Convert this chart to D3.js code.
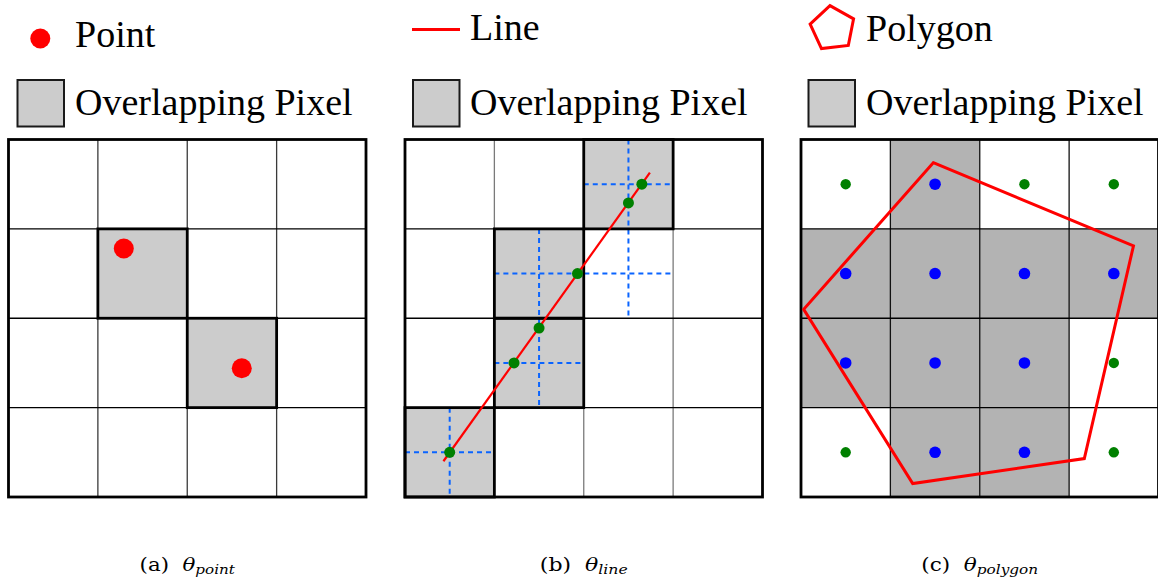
<!DOCTYPE html>
<html>
<head>
<meta charset="utf-8">
<script src="https://cdn.jsdelivr.net/npm/d3@7"></script>
<style>
  html, body { margin: 0; padding: 0; background: #fff; }
  svg { display: block; }
</style>
</head>
<body>
<svg id="fig" width="1158" height="579"></svg>
<script>
// ---- grid size (cells per side) ----
const gridN = 4;

// ---- (a) point: red points and the pixels they fall in (grid units, col/row from top-left) ----
const pointValues = [[1.29, 1.22], [2.61, 2.56]];
const pointCells = [[1, 1], [2, 2]];

// ---- (b) line: end points, overlapped pixels, sample crossings and guide lines ----
const lineEnds = [[0.43, 3.60], [2.74, 0.37]];
const lineCells = [[2, 0], [1, 1], [1, 2], [0, 3]];
const lineHits = [[0.5, 3.5], [1.22, 2.5], [1.5, 2.11], [1.93, 1.5], [2.5, 0.71], [2.65, 0.5]];
const guidesV = [[0.5, 3, 4], [1.5, 1, 3], [2.5, 0, 2]];   // [x, y from, y to]
const guidesH = [[3.5, 0, 1], [2.5, 1, 2], [1.5, 1, 3], [0.5, 2, 3]]; // [y, x from, x to]

// ---- (c) polygon: vertices and the pixels whose centres lie inside ----
const polygonVertices = [[1.48, 0.26], [3.72, 1.19], [3.17, 3.57], [1.25, 3.85], [0.03, 1.90]];
const polygonCells = [[1, 0], [0, 1], [1, 1], [2, 1], [3, 1], [0, 2], [1, 2], [2, 2], [1, 3], [2, 3]];

// ---- text ----
const legendNames = ["Point", "Line", "Polygon"];
const legendPixel = "Overlapping Pixel";
const captionTags = ["(a)", "(b)", "(c)"];
const captionSubs = ["point", "line", "polygon"];

const svg = d3.select("#fig");
const RED = "#ff0000", GREEN = "#008000", BLUE = "#0000ff", DASH = "#0a64ff";
const serif = "'Liberation Serif', 'Times New Roman', serif";

const panelX = [8.5, 405, 801];
const panelY = 139.5;
const panelSize = 357.5;

function scalesFor(i) {
  return {
    x: d3.scaleLinear().domain([0, gridN]).range([panelX[i], panelX[i] + panelSize]),
    y: d3.scaleLinear().domain([0, gridN]).range([panelY, panelY + panelSize])
  };
}

function drawGrid(g, s, vColor, hColor) {
  const ticks = d3.range(1, gridN);
  g.selectAll("line.v").data(ticks).join("line")
    .attr("x1", d => s.x(d)).attr("x2", d => s.x(d))
    .attr("y1", s.y(0)).attr("y2", s.y(gridN))
    .attr("stroke", vColor).attr("stroke-width", 1.3);
  g.selectAll("line.h").data(ticks).join("line")
    .attr("y1", d => s.y(d)).attr("y2", d => s.y(d))
    .attr("x1", s.x(0)).attr("x2", s.x(gridN))
    .attr("stroke", hColor).attr("stroke-width", 1.3);
}

function drawFrame(g, s) {
  g.append("rect")
    .attr("x", s.x(0)).attr("y", s.y(0))
    .attr("width", s.x(gridN) - s.x(0)).attr("height", s.y(gridN) - s.y(0))
    .attr("fill", "none").attr("stroke", "#000").attr("stroke-width", 2.8);
}

function cellRects(g, s, cells, fill, stroke, sw) {
  g.selectAll(null).data(cells).join("rect")
    .attr("x", d => s.x(d[0])).attr("y", d => s.y(d[1]))
    .attr("width", s.x(1) - s.x(0)).attr("height", s.y(1) - s.y(0))
    .attr("fill", fill).attr("stroke", stroke).attr("stroke-width", sw);
}

function legendPixelBox(g, x, textX) {
  g.append("rect").attr("x", x).attr("y", 80).attr("width", 46.5).attr("height", 46.5)
    .attr("fill", "#cccccc").attr("stroke", "#1a1a1a").attr("stroke-width", 2);
  g.append("text").attr("x", textX).attr("y", 114.5)
    .attr("font-family", serif).attr("font-size", 38).attr("fill", "#000")
    .text(legendPixel);
}

// sub-figure caption: "(a) θ_point", widened to the caption's set width
function caption(i) {
  const cx = panelX[i] + panelSize / 2;
  const widths = [96, 88, 117];
  const cg = svg.append("g");
  const t = cg.append("text")
    .attr("x", cx).attr("y", 571).attr("text-anchor", "middle")
    .attr("font-family", "'DejaVu Serif', serif").attr("font-size", 19).attr("fill", "#000");
  t.append("tspan").text(captionTags[i] + "\u00a0\u00a0");
  t.append("tspan").attr("font-style", "italic").attr("font-family", "'DejaVu Serif', serif")
    .attr("font-size", 19).text("\u03b8");
  t.append("tspan").attr("font-style", "italic").attr("font-family", "'DejaVu Serif', serif")
    .attr("font-size", 13.5).attr("dy", 3).text(captionSubs[i]);
  const w = t.node().getBBox().width;
  const k = widths[i] / w;
  cg.attr("transform", `translate(${cx},0) scale(${k},1) translate(${-cx},0)`);
}

// ================= (a) point =================
{
  const s = scalesFor(0);
  const g = svg.append("g");
  drawGrid(g, s, "#3a3a3a", "#000");
  cellRects(g, s, pointCells, "#cccccc", "#000", 2.8);
  drawFrame(g, s);
  g.selectAll("circle.pt").data(pointValues).join("circle")
    .attr("cx", d => s.x(d[0])).attr("cy", d => s.y(d[1])).attr("r", 10).attr("fill", RED);

  const lg = svg.append("g");
  lg.append("circle").attr("cx", 40.3).attr("cy", 38.5).attr("r", 10).attr("fill", RED);
  lg.append("text").attr("x", 75).attr("y", 46.5)
    .attr("font-family", serif).attr("font-size", 38).text(legendNames[0]);
  legendPixelBox(lg, 17.5, 75);
  caption(0);
}

// ================= (b) line =================
{
  const s = scalesFor(1);
  const g = svg.append("g");
  cellRects(g, s, lineCells, "#cccccc", "none", 0);
  drawGrid(g, s, "#7a7a7a", "#000");
  // dashed guide lines through the pixel centres
  g.selectAll("line.gv").data(guidesV).join("line")
    .attr("x1", d => s.x(d[0])).attr("x2", d => s.x(d[0]))
    .attr("y1", d => s.y(d[1])).attr("y2", d => s.y(d[2]))
    .attr("stroke", DASH).attr("stroke-width", 2).attr("stroke-dasharray", "5,4");
  g.selectAll("line.gh").data(guidesH).join("line")
    .attr("y1", d => s.y(d[0])).attr("y2", d => s.y(d[0]))
    .attr("x1", d => s.x(d[1])).attr("x2", d => s.x(d[2]))
    .attr("stroke", DASH).attr("stroke-width", 2).attr("stroke-dasharray", "5,4");
  cellRects(g, s, lineCells, "none", "#000", 2.8);
  drawFrame(g, s);
  g.append("path")
    .attr("d", d3.line().x(d => s.x(d[0])).y(d => s.y(d[1]))(lineEnds))
    .attr("stroke", RED).attr("stroke-width", 2.2).attr("fill", "none");
  g.selectAll("circle.hit").data(lineHits).join("circle")
    .attr("cx", d => s.x(d[0])).attr("cy", d => s.y(d[1])).attr("r", 5.5).attr("fill", GREEN);

  const lg = svg.append("g");
  lg.append("line").attr("x1", 412).attr("x2", 460).attr("y1", 29.5).attr("y2", 29.5)
    .attr("stroke", RED).attr("stroke-width", 3);
  lg.append("text").attr("x", 470).attr("y", 40)
    .attr("font-family", serif).attr("font-size", 38).text(legendNames[1]);
  legendPixelBox(lg, 413, 470);
  caption(1);
}

// ================= (c) polygon =================
{
  const s = scalesFor(2);
  const g = svg.append("g");
  cellRects(g, s, polygonCells, "#b3b3b3", "none", 0);
  drawGrid(g, s, "#111", "#000");
  drawFrame(g, s);
  const inside = new Set(polygonCells.map(d => d[0] + "," + d[1]));
  const centres = d3.cross(d3.range(gridN), d3.range(gridN));
  g.selectAll("circle.c").data(centres).join("circle")
    .attr("cx", d => s.x(d[0] + 0.5)).attr("cy", d => s.y(d[1] + 0.5))
    .attr("r", d => inside.has(d[0] + "," + d[1]) ? 5.8 : 5.2)
    .attr("fill", d => inside.has(d[0] + "," + d[1]) ? BLUE : GREEN);
  g.append("path")
    .attr("d", d3.line().x(d => s.x(d[0])).y(d => s.y(d[1])).curve(d3.curveLinearClosed)(polygonVertices))
    .attr("stroke", RED).attr("stroke-width", 3).attr("fill", "none").attr("stroke-linejoin", "miter");

  const lg = svg.append("g");
  const pent = d3.range(5).map(k => {
    const a = (-96.8 + k * 72) * Math.PI / 180;
    return [832.7 + 23 * Math.cos(a), 28.5 + 23 * Math.sin(a)];
  });
  lg.append("path").attr("d", d3.line().curve(d3.curveLinearClosed)(pent))
    .attr("stroke", RED).attr("stroke-width", 3).attr("fill", "none");
  lg.append("text").attr("x", 866).attr("y", 40.5)
    .attr("font-family", serif).attr("font-size", 38).text(legendNames[2]);
  legendPixelBox(lg, 808.5, 866);
  caption(2);
}
</script>
</body>
</html>
